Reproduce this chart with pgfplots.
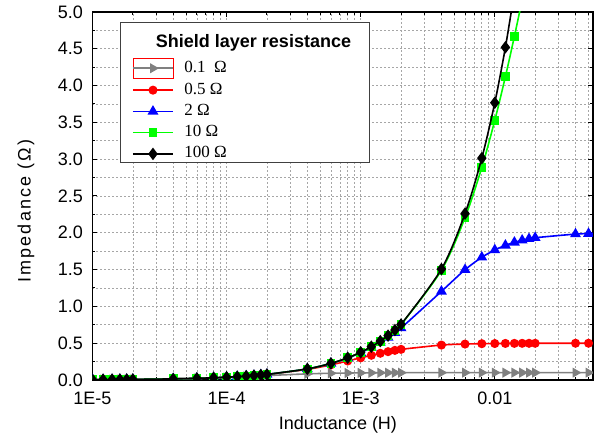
\documentclass[border=0pt]{standalone}
\usepackage{pgfplots}
\pgfplotsset{compat=1.18}
\usepackage{fontspec}
\setmainfont{Liberation Sans}
\newfontfamily\serif{Liberation Serif}
\newfontfamily\spacedsans[LetterSpace=12]{Liberation Sans}
\definecolor{cgray}{RGB}{128,128,128}
\definecolor{cred}{RGB}{255,0,0}
\definecolor{cblue}{RGB}{0,0,255}
\definecolor{cgreen}{RGB}{0,255,0}
\begin{document}
\begin{tikzpicture}
\begin{axis}[
  at={(92.5bp,65bp)}, anchor=south west,
  scale only axis, width=500.5bp, height=368bp,
  xmode=log, xmin=1e-5, xmax=0.054, ymin=0, ymax=5,
  xtick={1e-5,1e-4,1e-3,1e-2},
  xticklabels={1E-5,1E-4,1E-3,0.01},
  minor xtick={2e-5,3e-5,4e-5,5e-5,6e-5,7e-5,8e-5,9e-5,2e-4,3e-4,4e-4,5e-4,6e-4,7e-4,8e-4,9e-4,2e-3,3e-3,4e-3,5e-3,6e-3,7e-3,8e-3,9e-3,2e-2,3e-2,4e-2,5e-2},
  ytick={0,0.5,...,5},
  minor y tick num=1,
  yticklabel style={/pgf/number format/fixed, /pgf/number format/fixed zerofill, /pgf/number format/precision=1, /pgf/number format/assume math mode=true},
  ticklabel style={font=\fontsize{18bp}{20bp}\selectfont},
  every x tick label/.append style={inner ysep=11.5bp},
  every y tick label/.append style={inner xsep=9.5bp},
  label style={font=\fontsize{18bp}{20bp}\selectfont},
  xlabel={Inductance (H)},
  ylabel={\spacedsans Impedance (Ω)},
  xlabel style={at={(axis description cs:0.4905,-0.1223)}, anchor=center},
  ylabel style={at={(axis description cs:-0.133,0.459)}, anchor=center},
  grid=both,
  major grid style={gray!70, dash pattern=on 2bp off 2bp, line width=0.6bp},
  minor grid style={gray!70, dash pattern=on 2bp off 2bp, line width=0.6bp},
  axis line style={line width=1.3bp, black},
  tick style={line width=1bp, black},
  major tick length=5bp, minor tick length=3bp,
  tick align=inside,
  clip marker paths=true,
  legend cell align=left,
  legend image code/.code={\draw[mark repeat=2,mark phase=2] plot coordinates {(0bp,0bp)(20bp,0bp)(40bp,0bp)};},
  legend style={at={(axis description cs:0.0789,0.8766)}, anchor=north west, draw=none, fill=none, inner sep=0pt, row sep=1.25bp, column sep=10.5bp, nodes={inner xsep=0pt, inner ysep=2bp, text height=12bp, text depth=4bp}, font=\serif\fontsize{17bp}{19bp}\selectfont},
  every axis plot/.append style={line width=1.6bp, smooth},
]
% 0.1 Ohm
\addplot[cgray, mark=triangle*, mark size=4.3bp, mark options={rotate=-90},
  legend image code/.code={\draw[red,line width=0.7bp,solid] (0bp,-10.3bp) rectangle (40bp,10.3bp); \draw[mark repeat=2,mark phase=2] plot coordinates {(0bp,0bp)(20bp,0bp)(40bp,0bp)};}]
coordinates {
(1e-5,0.00377)(1.2e-5,0.00452)(1.4e-5,0.00527)(1.6e-5,0.00602)(1.8e-5,0.00677)(2e-5,0.00752)
(4e-5,0.01491)(6e-5,0.02206)(8e-5,0.02888)(1e-4,0.03528)(1.2e-4,0.04122)(1.4e-4,0.04668)
(1.6e-4,0.05165)(1.8e-4,0.05615)(2e-4,0.0602)(4e-4,0.08334)(6e-4,0.09146)(8e-4,0.09492)
(1e-3,0.09666)(1.2e-3,0.09764)(1.4e-3,0.09825)(1.6e-3,0.09865)(1.8e-3,0.09893)(2e-3,0.09913)
(4e-3,0.09978)(6e-3,0.0999)(8e-3,0.09995)(0.01,0.09996)(0.012,0.09998)(0.014,0.09998)
(0.016,0.09999)(0.018,0.09999)(0.02,0.09999)(0.04,0.1)(0.05,0.1)(0.06,0.1)(0.08,0.1)
};
\addlegendentry{0.1~~Ω}
% 0.5 Ohm
\addplot[cred, mark=*, mark size=3.7bp]
coordinates {
(1e-5,0.00377)(1.2e-5,0.00452)(1.4e-5,0.00528)(1.6e-5,0.00603)(1.8e-5,0.00679)(2e-5,0.00754)
(4e-5,0.01507)(6e-5,0.0226)(8e-5,0.0301)(1e-4,0.03759)(1.2e-4,0.04506)(1.4e-4,0.05249)
(1.6e-4,0.05989)(1.8e-4,0.06724)(2e-4,0.07456)(4e-4,0.14437)(6e-4,0.20609)(8e-4,0.25825)
(1e-3,0.30102)(1.2e-3,0.33547)(1.4e-3,0.36298)(1.6e-3,0.38494)(1.8e-3,0.40253)(2e-3,0.4167)
(4e-3,0.4746)(6e-3,0.48822)(8e-3,0.49327)(0.01,0.49566)(0.012,0.49697)(0.014,0.49777)
(0.016,0.49829)(0.018,0.49865)(0.02,0.4989)(0.04,0.49973)(0.05,0.49982)(0.06,0.49988)(0.08,0.49993)
};
\addlegendentry{0.5 Ω}
% 2 Ohm
\addplot[cblue, mark=triangle*, mark size=4.7bp]
coordinates {
(1e-5,0.00377)(1.2e-5,0.00452)(1.4e-5,0.00528)(1.6e-5,0.00603)(1.8e-5,0.00679)(2e-5,0.00754)
(4e-5,0.01508)(6e-5,0.02262)(8e-5,0.03016)(1e-4,0.03769)(1.2e-4,0.04523)(1.4e-4,0.05276)
(1.6e-4,0.06029)(1.8e-4,0.06782)(2e-4,0.07535)(4e-4,0.15037)(6e-4,0.22477)(8e-4,0.29823)
(1e-3,0.37047)(1.2e-3,0.44125)(1.4e-3,0.51033)(1.6e-3,0.57751)(1.8e-3,0.64262)(2e-3,0.70552)
(4e-3,1.2041)(6e-3,1.49832)(8e-3,1.66681)(0.01,1.76677)(0.012,1.82923)(0.014,1.87023)
(0.016,1.89837)(0.018,1.91841)(0.02,1.93315)(0.04,1.98264)(0.05,1.98884)(0.06,1.9922)(0.08,1.9956)
};
\addlegendentry{2 Ω}
% 10 Ohm
\addplot[cgreen, mark=square*, mark size=3.6bp]
coordinates {
(1e-5,0.00377)(1.2e-5,0.00452)(1.4e-5,0.00528)(1.6e-5,0.00603)(1.8e-5,0.00679)(2e-5,0.00754)
(4e-5,0.01508)(6e-5,0.02262)(8e-5,0.03016)(1e-4,0.0377)(1.2e-4,0.04524)(1.4e-4,0.05278)
(1.6e-4,0.06032)(1.8e-4,0.06786)(2e-4,0.0754)(4e-4,0.15078)(6e-4,0.22614)(8e-4,0.30146)
(1e-3,0.37673)(1.2e-3,0.45194)(1.4e-3,0.52707)(1.6e-3,0.60211)(1.8e-3,0.67704)(2e-3,0.75187)
(4e-3,1.49114)(6e-3,2.20627)(8e-3,2.88753)(0.01,3.52762)(0.012,4.12184)(0.014,4.66774)
(0.016,5.16509)
};
\addlegendentry{10 Ω}
% 100 Ohm
\addplot[black, mark=diamond*, mark size=5bp]
coordinates {
(1e-5,0.00377)(1.2e-5,0.00452)(1.4e-5,0.00528)(1.6e-5,0.00603)(1.8e-5,0.00679)(2e-5,0.00754)
(4e-5,0.01508)(6e-5,0.02262)(8e-5,0.03016)(1e-4,0.0377)(1.2e-4,0.04524)(1.4e-4,0.05278)
(1.6e-4,0.06032)(1.8e-4,0.06786)(2e-4,0.0754)(4e-4,0.1508)(6e-4,0.2262)(8e-4,0.3016)
(1e-3,0.377)(1.2e-3,0.4524)(1.4e-3,0.5278)(1.6e-3,0.6032)(1.8e-3,0.6786)(2e-3,0.754)
(4e-3,1.5078)(6e-3,2.2614)(8e-3,3.0146)(0.01,3.7673)(0.012,4.5194)(0.014,5.2707)
};
\addlegendentry{100 Ω}
\draw[line width=1bp, black!75, fill=white] (axis description cs:0.0569,0.5897) rectangle (axis description cs:0.5544,0.9728);
\node[font=\bfseries\fontsize{18bp}{20bp}\selectfont] at (axis description cs:0.3217,0.9158) {Shield layer resistance};
\end{axis}
\pgfresetboundingbox
\path (0,0) rectangle (600bp,445bp);
\end{tikzpicture}
\end{document}
